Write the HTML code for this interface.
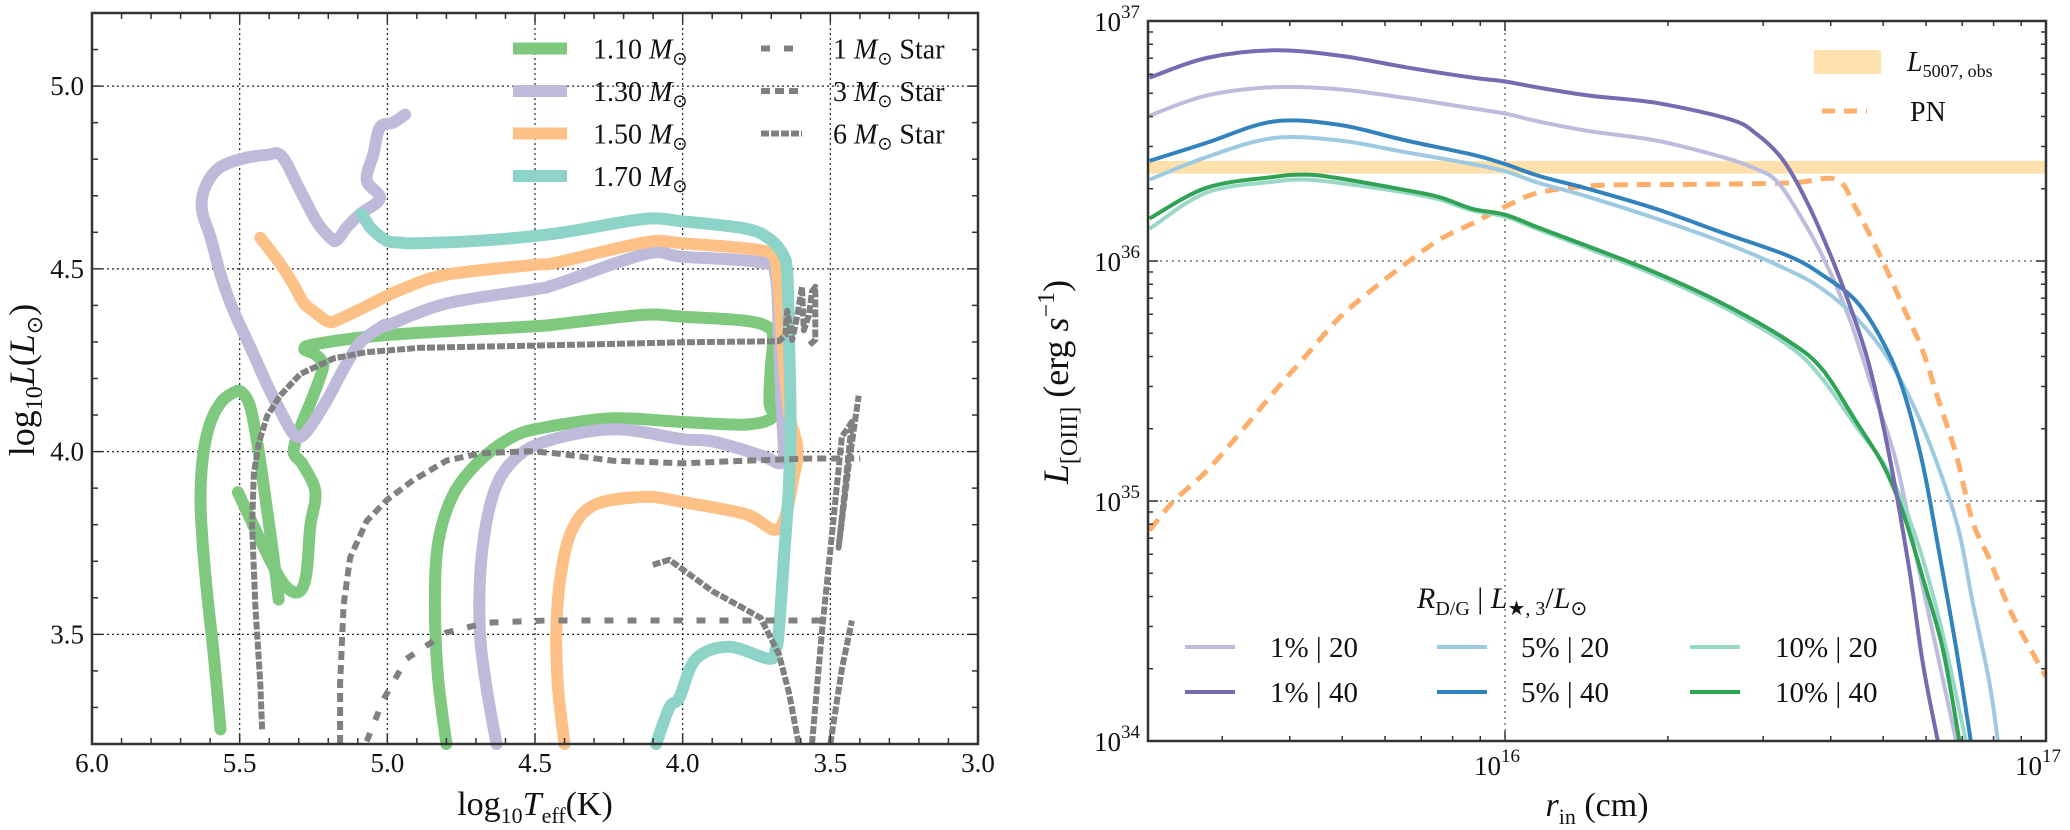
<!DOCTYPE html>
<html><head><meta charset="utf-8"><style>
body{margin:0;background:#fff}
svg text{font-family:"Liberation Serif",serif;fill:#111}
</style></head><body>
<svg id="fig" width="2070" height="825" viewBox="0 0 2070 825" xmlns="http://www.w3.org/2000/svg">
<g id="left"></g>
<g id="right"></g>
</svg>
<script>
// ---------- LEFT PANEL DATA (log Teff, log L) ----------
const g110_T = [[5.565,5.587,5.615,5.632,5.627,5.604,5.565,5.52,5.492,5.463,5.435,5.407,5.385,5.368],
 [5.506,5.418,5.351,5.30,5.274,5.261,5.244,5.25,5.289,5.317,5.297,5.261,5.227,5.218,5.244,5.281,5.238,5.0,4.5,4.428,4.135,4.0,3.787,3.708,3.694,3.702,3.706,3.694,3.787,4.0,4.236,4.462,4.574,4.687,4.777,4.828,4.839,4.828,4.8]];
const g110_L = [[3.24,3.437,3.652,3.839,3.968,4.068,4.133,4.162,4.162,4.119,3.997,3.839,3.71,3.595],
 [3.889,3.738,3.638,3.616,3.666,3.796,3.867,3.910,3.968,3.999,4.061,4.133,4.205,4.241,4.266,4.281,4.295,4.319,4.343,4.348,4.374,4.369,4.358,4.339,4.306,4.226,4.132,4.094,4.074,4.081,4.091,4.067,4.041,3.975,3.882,3.75,3.578,3.38,3.2]];
const m130_T = [[4.94,4.98,5.025,5.047,5.07,5.025,5.092,5.137,5.171,5.193,5.238,5.295,5.357,5.407,5.497,5.576,5.621,5.627,5.598,5.565,5.52,5.463,5.407,5.362,5.323,5.295,5.261,5.205,5.148,5.092,5.013,5.0,4.8,4.5,4.428,4.124,4.0,3.73,3.685,3.674,3.663,3.657,3.674,3.73,3.899,4.0,4.236,4.462,4.574,4.642,4.681,4.687,4.664,4.63]];
const m130_L = [[4.922,4.90,4.887,4.815,4.743,4.693,4.65,4.614,4.578,4.585,4.628,4.714,4.808,4.812,4.80,4.772,4.714,4.657,4.585,4.485,4.384,4.284,4.183,4.111,4.054,4.04,4.068,4.14,4.226,4.298,4.345,4.345,4.405,4.444,4.458,4.541,4.533,4.517,4.478,4.306,4.094,3.988,3.968,3.988,4.028,4.034,4.061,4.028,3.975,3.882,3.71,3.512,3.353,3.2]];
const m150_T = [[5.43,5.362,5.317,5.283,5.25,5.199,5.16,5.07,4.957,4.8,4.5,4.428,4.124,4.0,3.73,3.685,3.663,3.64,3.612,3.623,3.674,3.787,4.0,4.124,4.293,4.372,4.411,4.428,4.422,4.4]];
const m150_L = [[4.585,4.513,4.456,4.406,4.384,4.355,4.363,4.398,4.442,4.484,4.511,4.517,4.573,4.570,4.550,4.517,4.306,4.107,4.015,3.935,3.79,3.829,3.862,3.876,3.856,3.79,3.671,3.512,3.353,3.2]];
const m170_T = [[5.087,5.058,5.03,4.996,4.957,4.912,4.687,4.428,4.135,4.0,3.787,3.708,3.663,3.646,3.64,3.635,3.64,3.657,3.674,3.685,3.708,3.843,3.955,4.011,4.045,4.09]];
const m170_L = [[4.65,4.614,4.592,4.575,4.572,4.570,4.577,4.597,4.636,4.63,4.61,4.583,4.543,4.49,4.306,4.107,3.909,3.710,3.512,3.459,3.433,3.466,3.433,3.327,3.30,3.2]];
const s1_T = [[5.07,5.013,4.935,4.8,4.664,4.462,4.0,3.5]];
const s1_L = [[3.207,3.322,3.433,3.505,3.532,3.538,3.538,3.538]];
const s3_T = [[5.16,5.16,5.148,5.126,5.07,5.002,4.912,4.8,4.687,4.518,4.428,4.236,4.0,3.787,3.562,3.399]];
const s3_L = [[3.2,3.365,3.58,3.71,3.81,3.867,3.922,3.975,3.995,4.001,3.995,3.975,3.968,3.975,3.981,3.981]];
const s6_T = [[5.424,5.43,5.447,5.458,5.452,5.435,5.407,5.362,5.295,5.182,5.07,4.89,4.5,4.0,3.674,3.652,3.646,3.629,3.612,3.596,3.59,3.573,3.562,3.551,3.551,3.573],
 [4.101,4.045,3.989,3.899,3.809,3.736,3.674,3.64,3.607],
 [3.562,3.528,3.494,3.461,3.427,3.449,3.472,3.438,3.404],
 [3.5,3.461,3.427]];
const s6_L = [[3.24,3.365,3.58,3.796,3.939,4.025,4.097,4.154,4.212,4.255,4.272,4.284,4.29,4.299,4.302,4.319,4.385,4.306,4.372,4.451,4.332,4.372,4.438,4.451,4.306,4.29],
 [3.69,3.704,3.671,3.618,3.578,3.545,3.446,3.34,3.2],
 [3.2,3.512,3.777,4.041,4.081,3.909,3.737,3.962,4.153],
 [3.2,3.406,3.538]];
const xTicksL = ["6.0","5.5","5.0","4.5","4.0","3.5","3.0"];
const yTicksL = ["3.5","4.0","4.5","5.0"];

// ---------- RIGHT PANEL DATA (log r_in, log L) ----------
const p140_r = [15.343,15.448,15.571,15.694,15.817,15.940,16.0,16.063,16.156,16.279,16.415,16.464,16.513,16.556,16.599,16.636,16.673,16.710,16.747,16.772,16.80];
const p140_L = [36.764,36.846,36.878,36.856,36.807,36.764,36.748,36.722,36.689,36.659,36.591,36.531,36.423,36.256,36.039,35.823,35.567,35.193,34.72,34.327,34.0];
const p120_r = [15.343,15.448,15.571,15.694,15.817,15.940,16.0,16.063,16.156,16.279,16.402,16.464,16.501,16.538,16.587,16.636,16.679,16.722,16.759,16.797,16.834];
const p120_L = [36.606,36.689,36.724,36.715,36.679,36.636,36.614,36.581,36.541,36.502,36.433,36.384,36.335,36.217,36.02,35.764,35.469,35.173,34.78,34.386,34.0];
const p540_r = [15.343,15.448,15.571,15.694,15.817,15.940,16.0,16.063,16.156,16.279,16.402,16.525,16.587,16.649,16.698,16.735,16.772,16.803,16.834,16.861];
const p540_L = [36.417,36.492,36.581,36.567,36.502,36.443,36.404,36.354,36.299,36.217,36.118,36.02,35.941,35.833,35.665,35.469,35.154,34.78,34.386,34.0];
const p520_r = [15.343,15.448,15.571,15.694,15.817,15.940,16.0,16.063,16.156,16.279,16.402,16.525,16.587,16.649,16.710,16.772,16.834,16.864,16.895,16.911];
const p520_L = [36.339,36.433,36.512,36.502,36.453,36.404,36.374,36.325,36.266,36.177,36.079,35.961,35.882,35.764,35.587,35.311,34.917,34.583,34.248,34.0];
const p1040_r = [15.343,15.448,15.571,15.632,15.694,15.817,15.879,15.940,16.0,16.063,16.156,16.279,16.402,16.525,16.587,16.649,16.698,16.735,16.772,16.809,16.84];
const p1040_L = [36.177,36.305,36.350,36.360,36.344,36.295,36.266,36.217,36.193,36.138,36.059,35.951,35.823,35.665,35.547,35.331,35.154,34.957,34.681,34.386,34.0];
const p1020_r = [15.343,15.448,15.571,15.632,15.694,15.817,15.879,15.940,16.0,16.063,16.156,16.279,16.402,16.525,16.587,16.649,16.698,16.735,16.772,16.809,16.852];
const p1020_L = [36.134,36.285,36.33,36.339,36.325,36.285,36.256,36.21,36.185,36.13,36.05,35.94,35.81,35.646,35.508,35.311,35.163,34.996,34.76,34.445,34.0];
const pn_r = [15.343,15.386,15.448,15.509,15.571,15.632,15.694,15.755,15.817,15.879,15.940,16.0,16.063,16.174,16.341,16.526,16.612,16.649,16.698,16.741,16.772,16.803,16.834,16.864,16.895,16.938,17.0];
const pn_L = [34.878,34.996,35.124,35.281,35.449,35.606,35.764,35.882,35.990,36.089,36.157,36.226,36.285,36.315,36.319,36.325,36.339,36.217,36.0,35.783,35.626,35.409,35.193,34.917,34.76,34.524,34.268];
const band_L = [36.364, 36.417];
const xTicksR = [16, 17];
const yTicksR = [34, 35, 36, 37];

const NS = "http://www.w3.org/2000/svg";
function mk(parent, tag, attrs){const e=document.createElementNS(NS,tag);for(const k in attrs)e.setAttribute(k,attrs[k]);parent.appendChild(e);return e;}
function path(pts){return pts.map((p,i)=>(i?'L':'M')+p[0].toFixed(1)+','+p[1].toFixed(1)).join('');}
function smooth(pts){
 if(pts.length<3)return path(pts);
 let d='M'+pts[0][0].toFixed(1)+','+pts[0][1].toFixed(1);
 for(let i=0;i<pts.length-1;i++){
  const p0=pts[i-1]||pts[i],p1=pts[i],p2=pts[i+1],p3=pts[i+2]||p2;
  const c1=[p1[0]+(p2[0]-p0[0])/6,p1[1]+(p2[1]-p0[1])/6];
  const c2=[p2[0]-(p3[0]-p1[0])/6,p2[1]-(p3[1]-p1[1])/6];
  d+='C'+c1[0].toFixed(1)+','+c1[1].toFixed(1)+' '+c2[0].toFixed(1)+','+c2[1].toFixed(1)+' '+p2[0].toFixed(1)+','+p2[1].toFixed(1);
 }
 return d;
}

// ---------- LEFT PANEL ----------
const L = document.getElementById('left');
const LX0=92,LX1=978,LY0=13,LY1=744;
const sx = T => LX0 + (6 - T) / 3 * (LX1 - LX0);
const sy = v => LY0 + (5.2 - v) / 2 * (LY1 - LY0);
xTicksL.forEach(t=>{const v=parseFloat(t);if(v<6&&v>3){const g=mk(L,'line',{x1:sx(v),x2:sx(v),y1:LY0,y2:LY1,stroke:'#222','stroke-width':1.2,'stroke-dasharray':'2,3'});

}});
yTicksL.forEach(t=>{const v=parseFloat(t);const g=mk(L,'line',{x1:LX0,x2:LX1,y1:sy(v),y2:sy(v),stroke:'#222','stroke-width':1.2,'stroke-dasharray':'2,3'});

});
function trackL(Ts,Ls,color,w,dash,name){
  Ts.forEach((seg,si)=>{const pts=seg.map((t,i)=>[sx(t),sy(Ls[si][i])]);
    const a={d:dash?path(pts):smooth(pts),fill:'none',stroke:color,'stroke-width':w,'stroke-linejoin':'round','stroke-linecap':dash?'butt':'round'};
    if(dash)a['stroke-dasharray']=dash;
    const e=mk(L,'path',a);
    
    });
}
const cG='#7fc97f',cP='#bebada',cO='#fdc086',cT='#8dd3c7',cS='#808080';
trackL(g110_T,g110_L,cG,12,null,'track-1.10-msun');
trackL(m130_T,m130_L,cP,12,null,'track-1.30-msun');
trackL(m150_T,m150_L,cO,12,null,'track-1.50-msun');
trackL(m170_T,m170_L,cT,12,null,'track-1.70-msun');
trackL(s1_T,s1_L,cS,6,'9,14','track-1-msun-star');
trackL(s3_T,s3_L,cS,6,'9,5','track-3-msun-star');
trackL(s6_T,s6_L,cS,6,'8,2','track-6-msun-star');
const fL=mk(L,'rect',{x:LX0,y:LY0,width:LX1-LX0,height:LY1-LY0,fill:'none',stroke:'#333','stroke-width':2.5});


for(let k=0;k<=30;k++){const v=6-k*0.1,x=sx(v),len=(k%5==0)?10:6;
 mk(L,'line',{x1:x,x2:x,y1:LY1,y2:LY1-len,stroke:'#333','stroke-width':1.5});
 mk(L,'line',{x1:x,x2:x,y1:LY0,y2:LY0+len,stroke:'#333','stroke-width':1.5});}
for(let k=0;k<=20;k++){const v=3.2+k*0.1,y=sy(v),len=(Math.round(v*10)%5==0)?10:6;
 mk(L,'line',{x1:LX0,x2:LX0+len,y1:y,y2:y,stroke:'#333','stroke-width':1.5});
 mk(L,'line',{x1:LX1,x2:LX1-len,y1:y,y2:y,stroke:'#333','stroke-width':1.5});}
xTicksL.forEach(t=>{const e=mk(L,'text',{x:sx(parseFloat(t)),y:772,'text-anchor':'middle','font-size':27});e.textContent=t;

});
yTicksL.forEach(t=>{const e=mk(L,'text',{x:84,y:sy(parseFloat(t))+9,'text-anchor':'end','font-size':27});e.textContent=t;

});
const legL=[['1.10',cG],['1.30',cP],['1.50',cO],['1.70',cT]];
legL.forEach((d,i)=>{const y=[48.5,91,133.5,176][i];
 const ln=mk(L,'line',{x1:513,x2:567,y1:y,y2:y,stroke:d[1],'stroke-width':12});
 
 
 const t=mk(L,'text',{x:593,y:y+10,'font-size':28});
 t.innerHTML=d[0]+' <tspan font-style="italic">M</tspan><tspan font-size="18" dy="6">⊙</tspan>';
 
 });
const legS=[['1','9,14'],['3','9,5'],['6','8,2']];
legS.forEach((d,i)=>{const y=[48.5,91,133.5][i];
 const ln=mk(L,'line',{x1:761,x2:802,y1:y,y2:y,stroke:cS,'stroke-width':6,'stroke-dasharray':d[1]});
 
 
 const t=mk(L,'text',{x:833,y:y+10,'font-size':28});
 t.innerHTML=d[0]+' <tspan font-style="italic">M</tspan><tspan font-size="18" dy="6">⊙</tspan><tspan dy="-6"> Star</tspan>';
 
 });
const xlL=mk(L,'text',{x:535,y:815,'text-anchor':'middle','font-size':34});
xlL.innerHTML='log<tspan font-size="22" dy="8">10</tspan><tspan dy="-8" font-style="italic">T</tspan><tspan font-size="22" dy="8">eff</tspan><tspan dy="-8">(K)</tspan>';


const ylL=mk(L,'text',{x:0,y:0,'text-anchor':'middle','font-size':36,transform:'translate(34,380) rotate(-90)'});
ylL.innerHTML='log<tspan font-size="24" dy="8">10</tspan><tspan dy="-8" font-style="italic">L</tspan>(<tspan font-style="italic">L</tspan><tspan font-size="22" dy="8">⊙</tspan><tspan dy="-8">)</tspan>';



// ---------- RIGHT PANEL ----------
const R = document.getElementById('right');
const RX0=1148,RX1=2046,RY0=21,RY1=741;
const rx = v => RX0 + (v - 15.34) / 1.66 * (RX1 - RX0);
const ry = v => RY0 + (37 - v) / 3 * (RY1 - RY0);
[35,36].forEach(v=>{const g=mk(R,'line',{x1:RX0,x2:RX1,y1:ry(v),y2:ry(v),stroke:'#555','stroke-width':1.2,'stroke-dasharray':'2,4'});

});
const gx=mk(R,'line',{x1:rx(16),x2:rx(16),y1:RY0,y2:RY1,stroke:'#555','stroke-width':1.2,'stroke-dasharray':'2,4'});


const band=mk(R,'rect',{x:RX0,y:ry(band_L[1]),width:RX1-RX0,height:ry(band_L[0])-ry(band_L[1]),fill:'#fee0ad'});


const clip=mk(R,'clipPath',{id:'rclip'});mk(clip,'rect',{x:RX0,y:RY0,width:RX1-RX0,height:RY1-RY0});
function lineR(rs,ls,color,w,dash,name){
 const pts=rs.map((r,i)=>[rx(r),ry(ls[i])]);
 const a={d:smooth(pts),fill:'none',stroke:color,'stroke-width':w,'stroke-linejoin':'round','clip-path':'url(#rclip)'};
 if(dash)a['stroke-dasharray']=dash;
 const e=mk(R,'path',a);
 
 
}
lineR(pn_r,pn_L,'#fdae6b',5,'14,9','pn-line');
lineR(p120_r,p120_L,'#bcbddc',4,null,'line-1pct-20');
lineR(p520_r,p520_L,'#9ecae1',4,null,'line-5pct-20');
lineR(p1020_r,p1020_L,'#99d8c9',4,null,'line-10pct-20');
lineR(p1040_r,p1040_L,'#31a354',4,null,'line-10pct-40');
lineR(p540_r,p540_L,'#3182bd',4,null,'line-5pct-40');
lineR(p140_r,p140_L,'#756bb1',4,null,'line-1pct-40');
const fR=mk(R,'rect',{x:RX0,y:RY0,width:RX1-RX0,height:RY1-RY0,fill:'none',stroke:'#333','stroke-width':2.5});


for(let d=15;d<=16;d++)for(let k=1;k<=9;k++){const v=d+Math.log10(k);if(v<15.34||v>17)continue;const x=rx(v),len=k==1?10:5;
 mk(R,'line',{x1:x,x2:x,y1:RY1,y2:RY1-len,stroke:'#333','stroke-width':1.5});
 mk(R,'line',{x1:x,x2:x,y1:RY0,y2:RY0+len,stroke:'#333','stroke-width':1.5});}
for(let d=34;d<=36;d++)for(let k=1;k<=9;k++){const v=d+Math.log10(k);const y=ry(v),len=k==1?10:5;
 mk(R,'line',{x1:RX0,x2:RX0+len,y1:y,y2:y,stroke:'#333','stroke-width':1.5});
 mk(R,'line',{x1:RX1,x2:RX1-len,y1:y,y2:y,stroke:'#333','stroke-width':1.5});}
xTicksR.forEach(v=>{const e=mk(R,'text',{x:rx(v)-8,y:775,'text-anchor':'middle','font-size':27});
 e.innerHTML='10<tspan font-size="19" dy="-13">'+v+'</tspan>';
 
 });
yTicksR.forEach(v=>{const e=mk(R,'text',{x:1140,y:ry(v)+10,'text-anchor':'end','font-size':27});
 e.innerHTML='10<tspan font-size="19" dy="-13">'+v+'</tspan>';
 
 });
const xlR=mk(R,'text',{x:1597,y:816,'text-anchor':'middle','font-size':34});
xlR.innerHTML='<tspan font-style="italic">r</tspan><tspan font-size="22" dy="8">in</tspan><tspan dy="-8"> (cm)</tspan>';


const ylR=mk(R,'text',{x:0,y:0,'text-anchor':'middle','font-size':36,transform:'translate(1068,382) rotate(-90)'});
ylR.innerHTML='<tspan font-style="italic">L</tspan><tspan font-size="24" dy="9">[OIII]</tspan><tspan dy="-9"> (erg </tspan><tspan font-style="italic">s</tspan><tspan font-size="24" dy="-14">−1</tspan><tspan dy="14">)</tspan>';


const lb=mk(R,'rect',{x:1814,y:50,width:67,height:24,fill:'#fee0ad'});


const lt1=mk(R,'text',{x:1907,y:71,'font-size':28});
lt1.innerHTML='<tspan font-style="italic">L</tspan><tspan font-size="18" dy="6">5007, obs</tspan>';


const lpn=mk(R,'line',{x1:1822,x2:1867,y1:111,y2:111,stroke:'#fdae6b','stroke-width':5,'stroke-dasharray':'13,9'});


const lt2=mk(R,'text',{x:1910,y:121,'font-size':28});lt2.textContent='PN';


const lt=mk(R,'text',{x:1417,y:608,'font-size':30});
lt.innerHTML='<tspan font-style="italic">R</tspan><tspan font-size="20" dy="7">D/G</tspan><tspan dy="-7"> | </tspan><tspan font-style="italic">L</tspan><tspan font-size="20" dy="7">★, 3</tspan><tspan dy="-7">/</tspan><tspan font-style="italic">L</tspan><tspan font-size="20" dy="7">⊙</tspan>';


const legR=[['1% | 20','#bcbddc',1185,1270,647],['1% | 40','#756bb1',1185,1270,692],
 ['5% | 20','#9ecae1',1437,1521,647],['5% | 40','#3182bd',1437,1521,692],
 ['10% | 20','#99d8c9',1690,1775,647],['10% | 40','#31a354',1690,1775,692]];
legR.forEach(d=>{
 const ln=mk(R,'line',{x1:d[2],x2:d[2]+50,y1:d[4],y2:d[4],stroke:d[1],'stroke-width':4});
 
 
 const t=mk(R,'text',{x:d[3],y:d[4]+10,'font-size':29});t.textContent=d[0];
 
 });
</script>
</body></html>
